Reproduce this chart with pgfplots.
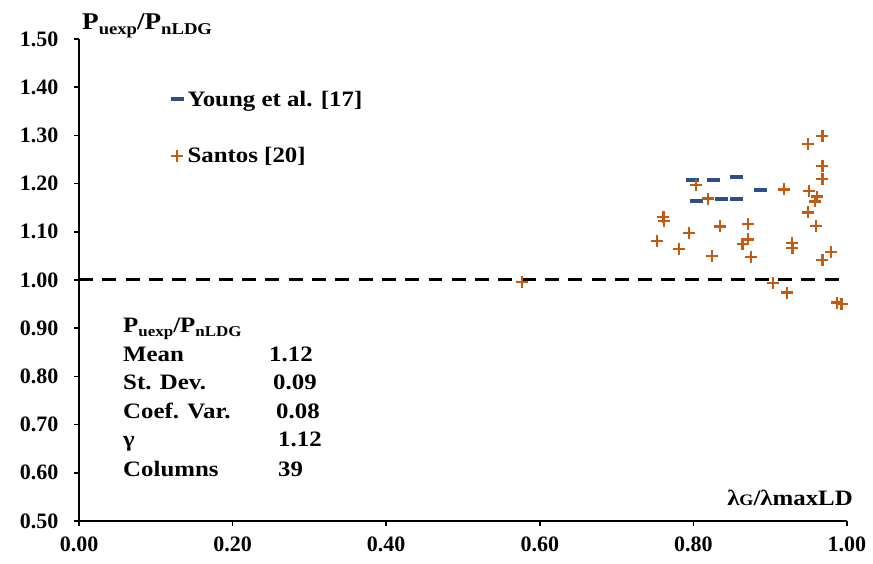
\documentclass[border=0pt]{standalone}
\usepackage{fontspec}
\setmainfont{Liberation Serif}
\newfontfamily\wide{Liberation Serif}[FakeStretch=1.13]
\usepackage{pgfplots}
\pgfplotsset{compat=1.18}

\definecolor{youngblue}{HTML}{2C4F86}
\definecolor{santosorange}{HTML}{C55A11}

\newcommand{\tck}{\fontsize{22}{26}\selectfont\bfseries}
\newcommand{\lbl}{\wide\fontsize{22}{26}\selectfont\bfseries}
\newcommand{\sub}[1]{\raisebox{-4pt}{\fontsize{15}{16}\selectfont\bfseries #1}}
\newcommand{\subb}[1]{\raisebox{-4.5pt}{\fontsize{16.5}{17}\selectfont\bfseries #1}}

\begin{document}
\begin{tikzpicture}
\begin{axis}[
    scale only axis,
    width=768pt, height=482pt,
    xmin=0, xmax=1, ymin=0.5, ymax=1.5,
    axis lines*=left,
    axis line style={black, line width=1.8pt},
    xtick={0,0.2,0.4,0.6,0.8,1.0},
    ytick={0.5,0.6,0.7,0.8,0.9,1.0,1.1,1.2,1.3,1.4,1.5},
    tick align=outside,
    major tick length=5pt,
    tick style={black, line width=1.5pt},
    /pgf/number format/.cd, fixed, fixed zerofill, precision=2, assume math mode=true,
    /pgfplots/.cd,
    ticklabel style={font=\tck},
    xticklabel style={yshift=-7pt},
    yticklabel style={xshift=-12pt},
    clip=false,
    legend style={draw=none, fill=none, at={(axis cs:0.119,1.397)}, anchor=north west,
                  row sep=36pt, font=\lbl, inner sep=0pt,
                  nodes={inner xsep=4pt}},
    legend cell align=left,
    legend image code/.code={\draw[mark repeat=2,mark phase=2,#1] plot coordinates {(0pt,0pt) (6pt,0pt) (12pt,0pt)};},
]
\path (axis cs:-0.1029,0.4108) rectangle (axis cs:1.0339,1.5809);

\addplot[only marks, mark=-, mark size=6.5pt, line width=4pt, color=youngblue] coordinates {
(0.799,1.207) (0.826,1.207) (0.856,1.214) (0.804,1.164) (0.837,1.169) (0.856,1.167) (0.887,1.186)
};
\addlegendentry{Young et al. [17]}

\addplot[only marks, mark=+, mark size=6pt, line width=2.3pt, color=santosorange] coordinates {
(0.968,1.299) (0.949,1.282) (0.968,1.237) (0.968,1.209) (0.803,1.197) (0.918,1.188)
(0.951,1.185) (0.961,1.173) (0.958,1.163) (0.819,1.169) (0.761,1.131) (0.762,1.122)
(0.949,1.140) (0.960,1.112) (0.871,1.116) (0.835,1.111) (0.794,1.098) (0.753,1.081)
(0.871,1.084) (0.864,1.075) (0.928,1.077) (0.929,1.067) (0.781,1.064) (0.824,1.050)
(0.875,1.048) (0.979,1.058) (0.968,1.041) (0.904,0.994) (0.922,0.974) (0.987,0.953)
(0.993,0.950) (0.577,0.996)
};
\addlegendentry{Santos [20]}

\addplot[black, line width=3pt, dash pattern=on 14pt off 9.3pt, forget plot] coordinates {(0,1) (1,1)};

\node[anchor=base west, inner sep=0pt] at (axis cs:0.0039,1.5187) {\wide\fontsize{24}{28}\selectfont\bfseries P\subb{uexp}/P\subb{nLDG}};
\node[anchor=base east, inner sep=0pt] at (axis cs:1.0078,0.533) {\lbl λ{\fontsize{16}{16}\selectfont G}/λmaxLD};

\node[anchor=base west, inner sep=0pt] at (axis cs:0.0573,0.890) {\lbl P\sub{uexp}/P\sub{nLDG}};
\node[anchor=base west, inner sep=0pt] at (axis cs:0.0573,0.830) {\lbl Mean};
\node[anchor=base west, inner sep=0pt] at (axis cs:0.0573,0.772) {\lbl St. Dev.};
\node[anchor=base west, inner sep=0pt] at (axis cs:0.0573,0.712) {\lbl Coef. Var.};
\node[anchor=base west, inner sep=0pt] at (axis cs:0.0573,0.654) {\lbl γ};
\node[anchor=base west, inner sep=0pt] at (axis cs:0.0573,0.593) {\lbl Columns};
\node[anchor=base west, inner sep=0pt] at (axis cs:0.2474,0.830) {\lbl 1.12};
\node[anchor=base west, inner sep=0pt] at (axis cs:0.2526,0.772) {\lbl 0.09};
\node[anchor=base west, inner sep=0pt] at (axis cs:0.2565,0.712) {\lbl 0.08};
\node[anchor=base west, inner sep=0pt] at (axis cs:0.2591,0.654) {\lbl 1.12};
\node[anchor=base west, inner sep=0pt] at (axis cs:0.2591,0.593) {\lbl 39};
\end{axis}
\end{tikzpicture}
\end{document}
